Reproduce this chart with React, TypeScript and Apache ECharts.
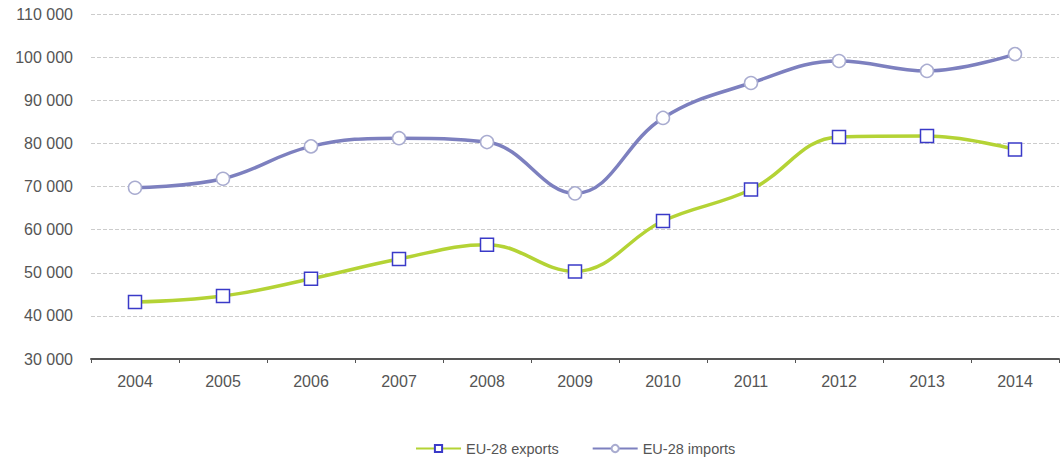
import React, { useEffect, useRef } from "react";
import * as echarts from "echarts";

const years = ["2004", "2005", "2006", "2007", "2008", "2009", "2010", "2011", "2012", "2013", "2014"];
const exportsData = [43200, 44600, 48600, 53200, 56500, 50300, 62000, 69300, 81500, 81700, 78600];
const importsData = [69700, 71800, 79300, 81200, 80300, 68400, 85900, 94000, 99100, 96800, 100700];

const fmt = (v: number) => {
  const s = String(Math.round(v));
  return s.replace(/\B(?=(\d{3})+(?!\d))/g, " ");
};

export default function App() {
  const ref = useRef<HTMLDivElement>(null);
  useEffect(() => {
    document.body.style.margin = "0";
    const chart = echarts.init(ref.current!, undefined, { renderer: "svg" });
    chart.setOption({
      animation: false,
      textStyle: { fontFamily: "Liberation Sans, Arial, sans-serif" },
      grid: { left: 91, right: 2, top: 14, bottom: 102 },
      xAxis: {
        type: "category",
        data: years,
        boundaryGap: true,
        axisLine: { lineStyle: { color: "#555", width: 2 } },
        axisTick: { show: true, length: 4, lineStyle: { color: "#555" } },
        axisLabel: { color: "#555", fontSize: 16, margin: 14 },
      },
      yAxis: {
        type: "value",
        min: 30000,
        max: 110000,
        interval: 10000,
        axisLine: { show: false },
        axisTick: { show: false },
        axisLabel: { color: "#555", fontSize: 16, margin: 18, formatter: fmt },
        splitLine: { lineStyle: { color: "#ccc", type: "dashed", width: 1 } },
      },
      legend: {
        bottom: 0,
        left: 410,
        itemGap: 33,
        itemWidth: 45,
        itemHeight: 9,
        textStyle: { color: "#555", fontSize: 14.5 },
        data: ["EU-28 exports", "EU-28 imports"],
      },
      series: [
        {
          name: "EU-28 exports",
          type: "line",
          data: exportsData,
          smooth: 0.4,
          symbol: "rect",
          symbolSize: 13,
          lineStyle: { color: "#b4d335", width: 3.5 },
          itemStyle: { color: "#fff", borderColor: "#3a3ac8", borderWidth: 1.5 },
          z: 3,
        },
        {
          name: "EU-28 imports",
          type: "line",
          data: importsData,
          smooth: 0.4,
          symbol: "circle",
          symbolSize: 13,
          lineStyle: { color: "#7d80bf", width: 3.5 },
          itemStyle: { color: "#fff", borderColor: "#a9acd0", borderWidth: 1.5 },
          z: 2,
        },
      ],
    });
    return () => chart.dispose();
  }, []);
  return <div ref={ref} style={{ width: 1061, height: 461 }} />;
}
